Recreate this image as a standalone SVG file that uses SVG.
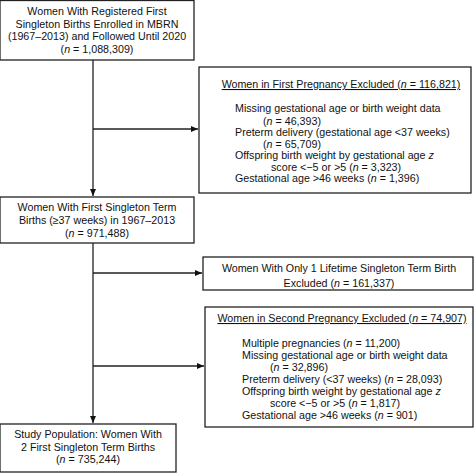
<svg xmlns="http://www.w3.org/2000/svg" width="474" height="474" viewBox="0 0 474 474">
<defs>
<style>
.box{fill:#fff;stroke:#222;stroke-width:1.3}
.t{font-family:"Liberation Sans",Arial,sans-serif;font-size:10.7px;fill:#111}
.c{text-anchor:middle}
.ln{stroke:#222;stroke-width:1.3;fill:none}
</style>
<marker id="ah" markerWidth="7" markerHeight="6" refX="7" refY="3" orient="auto" markerUnits="userSpaceOnUse">
<path d="M0,0 L7,3 L0,6 Z" fill="#111"/>
</marker>
</defs>
<rect width="474" height="474" fill="#fff"/>
<g id="connectors">
<line class="ln" x1="93" y1="60" x2="93" y2="196" marker-end="url(#ah)"/>
<line class="ln" x1="93" y1="129" x2="198" y2="129" marker-end="url(#ah)"/>
<line class="ln" x1="93" y1="243" x2="93" y2="423" marker-end="url(#ah)"/>
<line class="ln" x1="93" y1="273" x2="202" y2="273" marker-end="url(#ah)"/>
<line class="ln" x1="93" y1="366" x2="204" y2="366" marker-end="url(#ah)"/>
</g>
<g id="n1">
<rect class="box" x="0" y="0.5" width="194" height="59.5"/>
<text class="t c" x="97" y="15">Women With Registered First</text>
<text class="t c" x="97" y="27.5">Singleton Births Enrolled in MBRN</text>
<text class="t c" x="97" y="40">(1967–2013) and Followed Until 2020</text>
<text class="t c" x="97" y="52.5">(<tspan font-style="italic">n</tspan> = 1,088,309)</text>
</g>
<g id="n2">
<rect class="box" x="199" y="67" width="272" height="126"/>
<text class="t c" x="341" y="88" text-decoration="underline">Women in First Pregnancy Excluded (<tspan font-style="italic">n</tspan> = 116,821)</text>
<text class="t" x="235" y="112">Missing gestational age or birth weight data</text>
<text class="t" x="263" y="124.5">(<tspan font-style="italic">n</tspan> = 46,393)</text>
<text class="t" x="235" y="136">Preterm delivery (gestational age &lt;37 weeks)</text>
<text class="t" x="263" y="147.5">(<tspan font-style="italic">n</tspan> = 65,709)</text>
<text class="t" x="235" y="159">Offspring birth weight by gestational age <tspan font-style="italic">z</tspan></text>
<text class="t" x="271" y="170.5">score &lt;−5 or &gt;5 (<tspan font-style="italic">n</tspan> = 3,323)</text>
<text class="t" x="235" y="182">Gestational age &gt;46 weeks (<tspan font-style="italic">n</tspan> = 1,396)</text>
</g>
<g id="n3">
<rect class="box" x="0" y="197" width="194" height="46"/>
<text class="t c" x="97" y="211">Women With First Singleton Term</text>
<text class="t c" x="97" y="224">Births (≥37 weeks) in 1967–2013</text>
<text class="t c" x="97" y="237">(<tspan font-style="italic">n</tspan> = 971,488)</text>
</g>
<g id="n4">
<rect class="box" x="203" y="257" width="270" height="33"/>
<text class="t c" x="339" y="272">Women With Only 1 Lifetime Singleton Term Birth</text>
<text class="t c" x="339" y="286.5">Excluded (<tspan font-style="italic">n</tspan> = 161,337)</text>
</g>
<g id="n5">
<rect class="box" x="205" y="307" width="268" height="120"/>
<text class="t c" x="342" y="322" text-decoration="underline">Women in Second Pregnancy Excluded (<tspan font-style="italic">n</tspan> = 74,907)</text>
<text class="t" x="242" y="347">Multiple pregnancies (<tspan font-style="italic">n</tspan> = 11,200)</text>
<text class="t" x="242" y="359">Missing gestational age or birth weight data</text>
<text class="t" x="270" y="371">(<tspan font-style="italic">n</tspan> = 32,896)</text>
<text class="t" x="242" y="383">Preterm delivery (&lt;37 weeks) (<tspan font-style="italic">n</tspan> = 28,093)</text>
<text class="t" x="242" y="395">Offspring birth weight by gestational age <tspan font-style="italic">z</tspan></text>
<text class="t" x="270" y="407">score &lt;−5 or &gt;5 (<tspan font-style="italic">n</tspan> = 1,817)</text>
<text class="t" x="242" y="419">Gestational age &gt;46 weeks (<tspan font-style="italic">n</tspan> = 901)</text>
</g>
<g id="n6">
<rect class="box" x="0" y="424" width="176" height="48"/>
<text class="t c" x="88" y="438">Study Population: Women With</text>
<text class="t c" x="88" y="450.5">2 First Singleton Term Births</text>
<text class="t c" x="88" y="463">(<tspan font-style="italic">n</tspan> = 735,244)</text>
</g>
</svg>
